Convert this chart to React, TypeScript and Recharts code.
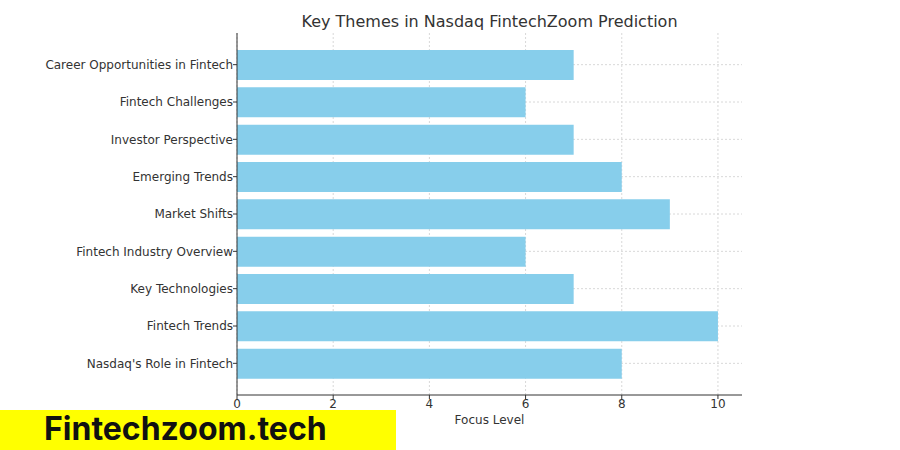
import { BarChart, Bar, XAxis, YAxis, CartesianGrid } from "recharts";

const themes = [
  "Career Opportunities in Fintech",
  "Fintech Challenges",
  "Investor Perspective",
  "Emerging Trends",
  "Market Shifts",
  "Fintech Industry Overview",
  "Key Technologies",
  "Fintech Trends",
  "Nasdaq's Role in Fintech",
];
const focusLevels = [7, 6, 7, 8, 9, 6, 7, 10, 8];
const xTicks = [0, 2, 4, 6, 8, 10];

const data = themes.map((theme, i) => ({ theme, focus: focusLevels[i] }));

const font = "'DejaVu Sans', sans-serif";
const tickStyle = { fontSize: 12, fill: "#333", fontFamily: font };

export default function App() {
  return (
    <div style={{ position: "absolute", left: 0, top: 0, width: 900, height: 450, background: "#fff" }}>
      <div
        style={{
          position: "absolute",
          left: 237,
          width: 505,
          top: 12,
          textAlign: "center",
          fontFamily: font,
          fontSize: 16,
          color: "#333",
          lineHeight: "20px",
        }}
      >
        Key Themes in Nasdaq FintechZoom Prediction
      </div>
      <BarChart
        width={900}
        height={450}
        data={data}
        layout="vertical"
        margin={{ top: 33, right: 158, bottom: 0, left: 0 }}
      >
        <CartesianGrid stroke="#d8d8d8" strokeDasharray="2 2" syncWithTicks />
        <XAxis
          type="number"
          domain={[0, 10.5]}
          ticks={xTicks}
          height={55}
          tick={tickStyle}
          tickSize={4}
          tickMargin={0}
          axisLine={{ stroke: "#333" }}
          tickLine={{ stroke: "#333" }}
          label={{ value: "Focus Level", position: "insideBottom", offset: 26, style: tickStyle }}
        />
        <YAxis
          type="category"
          dataKey="theme"
          width={237}
          padding={{ top: 13, bottom: 13 }}
          tick={tickStyle}
          tickSize={4}
          tickMargin={0}
          axisLine={{ stroke: "#333" }}
          tickLine={{ stroke: "#333" }}
          interval={0}
        />
        <Bar dataKey="focus" fill="#87CEEB" barSize={30} isAnimationActive={false} />
      </BarChart>
      <div
        style={{
          position: "absolute",
          left: 0,
          top: 410,
          width: 396,
          height: 40,
          background: "#FFFF00",
        }}
      >
        <div
          style={{
            position: "absolute",
            left: 44,
            top: 2,
            lineHeight: "34px",
            fontFamily: "Inter, sans-serif",
            fontWeight: 700,
            fontSize: 32,
            color: "#111",
          }}
        >
          Fintechzoom.tech
        </div>
      </div>
    </div>
  );
}
